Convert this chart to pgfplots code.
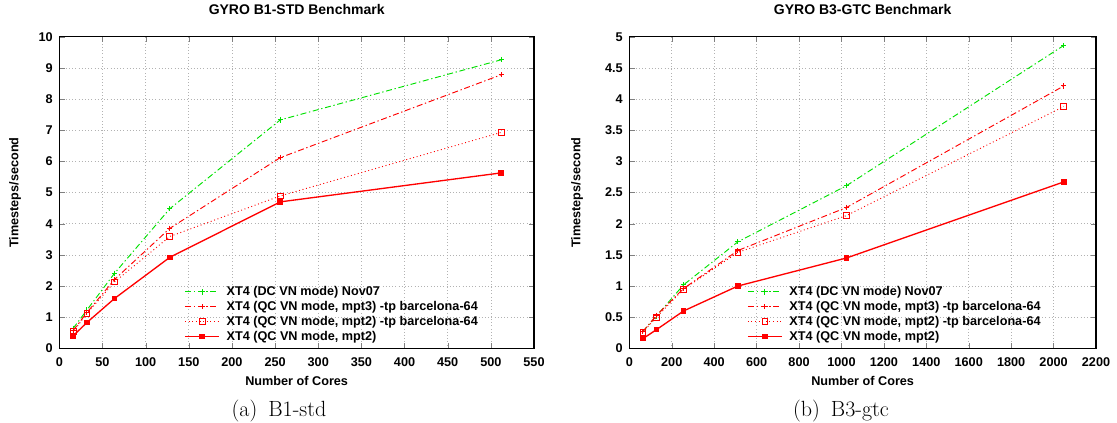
\documentclass[border=0pt]{standalone}
\usepackage{fontspec}
\newfontfamily\hel{Liberation Sans}
\usepackage{pgfplots}
\pgfplotsset{compat=1.18}
\definecolor{gpgreen}{RGB}{0,225,0}
\definecolor{gpred}{RGB}{255,0,0}

\pgfplotsset{
  gp/.style={
    scale only axis,
    anchor=south west,
    height=233.7pt,
    font=\hel\bfseries\fontsize{9.5}{11}\selectfont,
    /pgf/number format/assume math mode=true,
    /pgf/number format/1000 sep={},
    scaled ticks=false,
    tick align=inside,
    major tick length=4pt,
    axis line style={line width=0.8pt},
    grid=major,
    major grid style={dotted, gray!60, line width=0.5pt},
    title style={font=\hel\bfseries\fontsize{10.5}{12}\selectfont,
      at={(axis description cs:0.5,1.062)}, anchor=center},
    xlabel style={font=\hel\bfseries\fontsize{9.5}{11}\selectfont,
      at={(axis description cs:0.5,-0.105)}, anchor=center},
    ylabel style={font=\hel\bfseries\fontsize{9.5}{11}\selectfont, anchor=center},
    xticklabel style={anchor=center, yshift=-10pt},
    yticklabel style={xshift=-1.5pt},
    legend cell align=left,
    legend style={draw=none, fill=none, anchor=north west,
      font=\hel\bfseries\fontsize{9.5}{11}\selectfont,
      row sep=0pt, inner sep=0pt,
      nodes={text height=7pt, text depth=2pt, inner sep=1.1pt},
      /tikz/every odd column/.append style={column sep=4pt}},
    legend image code/.code={
      \draw[mark repeat=2, mark phase=2, ##1]
        plot coordinates {(0pt,0pt) (12.75pt,0pt) (25.5pt,0pt)};
    },
  },
  sgreen/.style={color=gpgreen, line width=0.7pt, dash pattern=on 4.5pt off 2pt on 1pt off 2pt,
    mark=+, mark size=2pt, mark options={solid, draw=gpgreen}},
  smptt/.style={color=gpred, line width=0.7pt, dash pattern=on 4.5pt off 2pt on 1pt off 2pt,
    mark=+, mark size=2pt, mark options={solid, draw=gpred}},
  sdot/.style={color=gpred, line width=0.7pt, dotted,
    mark=square, mark size=2.2pt, mark options={solid, draw=gpred, line width=0.6pt}},
  ssolid/.style={color=gpred, line width=1pt,
    mark=square*, mark size=1.6pt, mark options={solid, draw=gpred, fill=gpred}},
}

\begin{document}
\begin{tikzpicture}
\useasboundingbox (0pt,0pt) rectangle (837.75pt,317.25pt);

\begin{axis}[gp,
  at={(44.5pt,56pt)},
  width=356pt,
  xmin=0, xmax=550, ymin=0, ymax=10,
  xtick={0,50,...,550}, ytick={0,1,...,10},
  title={GYRO B1-STD Benchmark},
  xlabel={Number of Cores},
  ylabel={Timesteps/second},
  ylabel style={at={(axis description cs:-0.093,0.5)}},
  legend style={at={(axis description cs:0.263,0.206)}},
]
\addplot[sgreen] coordinates {(16,0.64) (32,1.23) (64,2.41) (128,4.48) (256,7.33) (512,9.26)};
\addlegendentry{XT4 (DC VN mode) Nov07}
\addplot[smptt] coordinates {(16,0.57) (32,1.15) (64,2.21) (128,3.85) (256,6.12) (512,8.78)};
\addlegendentry{XT4 (QC VN mode, mpt3) -tp barcelona-64}
\addplot[sdot] coordinates {(16,0.53) (32,1.12) (64,2.13) (128,3.59) (256,4.89) (512,6.93)};
\addlegendentry{XT4 (QC VN mode, mpt2) -tp barcelona-64}
\addplot[ssolid] coordinates {(16,0.40) (32,0.83) (64,1.60) (128,2.92) (256,4.70) (512,5.63)};
\addlegendentry{XT4 (QC VN mode, mpt2)}
\end{axis}

\begin{axis}[gp,
  at={(472pt,56pt)},
  width=350pt,
  xmin=0, xmax=2200, ymin=0, ymax=5,
  xtick={0,200,...,2200}, ytick={0,0.5,...,5},
  title={GYRO B3-GTC Benchmark},
  xlabel={Number of Cores},
  ylabel={Timesteps/second},
  ylabel style={at={(axis description cs:-0.112,0.5)}},
  legend style={at={(axis description cs:0.252,0.206)}},
]
\addplot[sgreen] coordinates {(64,0.27) (128,0.52) (256,1.02) (512,1.71) (1024,2.61) (2048,4.86)};
\addlegendentry{XT4 (DC VN mode) Nov07}
\addplot[smptt] coordinates {(64,0.27) (128,0.53) (256,0.96) (512,1.57) (1024,2.26) (2048,4.21)};
\addlegendentry{XT4 (QC VN mode, mpt3) -tp barcelona-64}
\addplot[sdot] coordinates {(64,0.26) (128,0.50) (256,0.95) (512,1.54) (1024,2.13) (2048,3.88)};
\addlegendentry{XT4 (QC VN mode, mpt2) -tp barcelona-64}
\addplot[ssolid] coordinates {(64,0.155) (128,0.30) (256,0.60) (512,1.00) (1024,1.45) (2048,2.67)};
\addlegendentry{XT4 (QC VN mode, mpt2)}
\end{axis}

\node[font=\fontsize{16.5}{19}\selectfont] at (209.25pt,9pt) {(a)\hspace{0.5em}B1-std};
\node[font=\fontsize{16.5}{19}\selectfont] at (630.75pt,9pt) {(b)\hspace{0.5em}B3-gtc};
\end{tikzpicture}
\end{document}
